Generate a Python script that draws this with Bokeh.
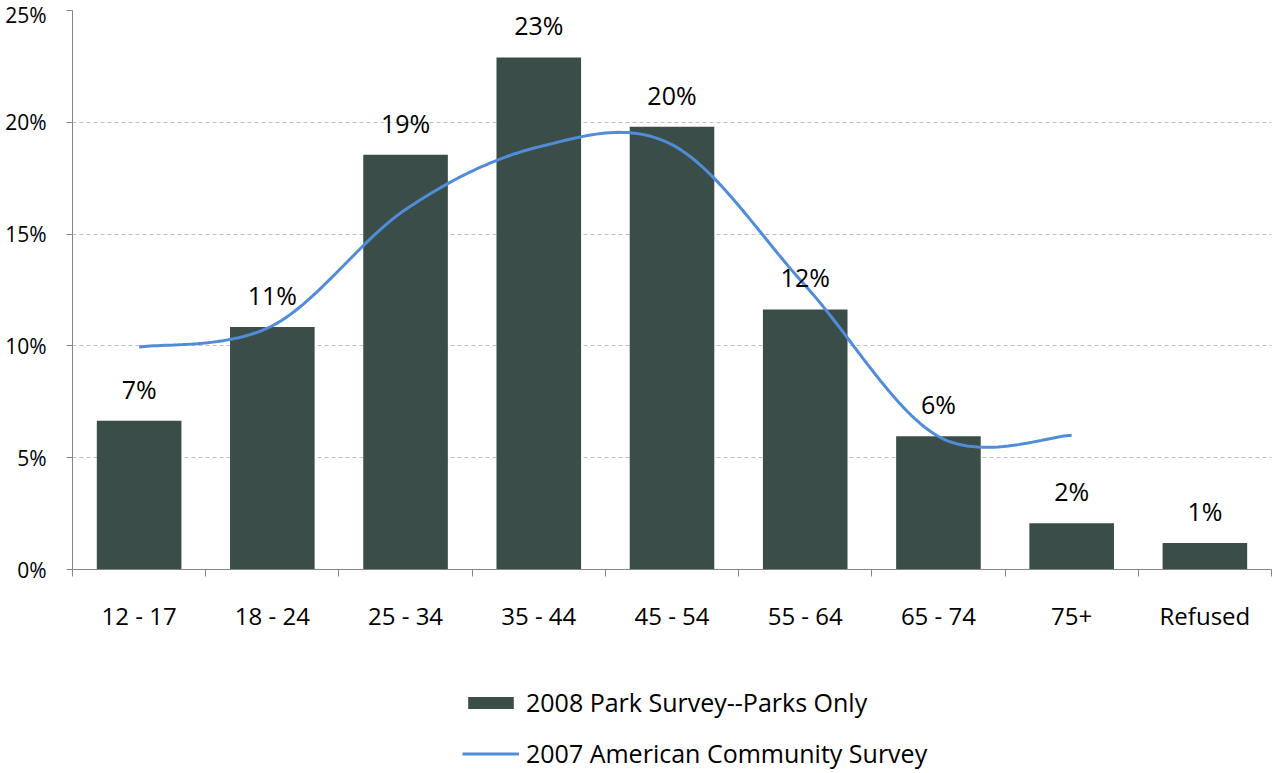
import math
from bokeh.plotting import figure
from bokeh.layouts import column
from bokeh.models import Range1d, FixedTicker, PrintfTickFormatter, Legend, LegendItem
from bokeh.core.properties import value
from bokeh.embed import file_html
from bokeh.resources import INLINE

categories = ["12 - 17", "18 - 24", "25 - 34", "35 - 44", "45 - 54",
              "55 - 64", "65 - 74", "75+", "Refused"]
park_survey_2008 = [6.65, 10.85, 18.55, 22.9, 19.8, 11.63, 5.96, 2.07, 1.19]
acs_2007 = [9.95, 10.9, 16.1, 18.9, 19.0, 12.7, 5.95, 6.0]  # no value for "Refused"
y_ticks = [0, 5, 10, 15, 20, 25]
series_names = ["2008 Park Survey--Parks Only", "2007 American Community Survey"]

FONT = "Open Sans"
BAR_COLOR = "#3B4D48"
LINE_COLOR = "#508CD8"
AXIS_COLOR = "#868686"
GRID_COLOR = "#C0C0C0"
W = 1272

n = len(categories)
centers = [i + 0.5 for i in range(n)]

p = figure(width=W, height=649, output_backend="svg", toolbar_location=None,
           x_range=Range1d(0, n), y_range=Range1d(0, 25),
           min_border_left=72, min_border_right=1, min_border_top=10,
           min_border_bottom=80)
p.outline_line_color = None

bar_style = dict(fill_color=BAR_COLOR, line_color=None)
line_style = dict(line_color=LINE_COLOR, line_width=3)

p.vbar(x=centers, top=park_survey_2008, width=0.635, **bar_style)


def smooth(xs, ys, steps=30):
    """Excel-like smoothed line (Catmull-Rom cubic Bezier)."""
    pts = list(zip(xs, ys))
    m = len(pts)
    out_x, out_y = [], []
    for i in range(m - 1):
        p0 = pts[i - 1] if i > 0 else pts[i]
        p1 = pts[i]
        p2 = pts[i + 1]
        p3 = pts[i + 2] if i + 2 < m else pts[i + 1]
        c1 = (p1[0] + (p2[0] - p0[0]) / 6, p1[1] + (p2[1] - p0[1]) / 6)
        c2 = (p2[0] - (p3[0] - p1[0]) / 6, p2[1] - (p3[1] - p1[1]) / 6)
        for k in range(steps + (1 if i == m - 2 else 0)):
            t = k / steps
            a = (1 - t) ** 3
            b = 3 * (1 - t) ** 2 * t
            c = 3 * (1 - t) * t ** 2
            d = t ** 3
            out_x.append(a * p1[0] + b * c1[0] + c * c2[0] + d * p2[0])
            out_y.append(a * p1[1] + b * c1[1] + c * c2[1] + d * p2[1])
    return out_x, out_y


lx, ly = smooth(centers[:len(acs_2007)], acs_2007)
p.line(lx, ly, **line_style)

labels = [f"{math.floor(v + 0.5)}%" for v in park_survey_2008]
p.text(x=centers, y=park_survey_2008, text=labels, text_align="center",
       text_baseline="alphabetic", y_offset=-32, text_font=value(FONT),
       text_font_size="25px", text_color="#000000")

# x axis: labels at category centres, tick marks at category boundaries
xaxis = p.xaxis[0]
xaxis.ticker = FixedTicker(ticks=centers, minor_ticks=list(range(n + 1)))
xaxis.major_label_overrides = {c: lab for c, lab in zip(centers, categories)}
xaxis.major_tick_out = 0
xaxis.major_tick_in = 0
xaxis.minor_tick_out = 7
xaxis.minor_tick_in = 0
xaxis.minor_tick_line_color = AXIS_COLOR
xaxis.axis_line_color = AXIS_COLOR
xaxis.major_label_standoff = 22
xaxis.major_label_text_font = FONT
xaxis.major_label_text_font_size = "24px"
xaxis.major_label_text_color = "#000000"

yaxis = p.yaxis[0]
yaxis.ticker = FixedTicker(ticks=y_ticks)
yaxis.formatter = PrintfTickFormatter(format="%d%%")
yaxis.major_tick_out = 6
yaxis.major_tick_in = 0
yaxis.minor_tick_out = 0
yaxis.minor_tick_in = 0
yaxis.axis_line_color = AXIS_COLOR
yaxis.major_tick_line_color = AXIS_COLOR
yaxis.major_label_standoff = 20
yaxis.major_label_text_font = FONT
yaxis.major_label_text_font_size = "21px"
yaxis.major_label_text_color = "#000000"

p.xgrid.visible = False
p.ygrid.ticker = FixedTicker(ticks=y_ticks)
p.ygrid.grid_line_color = GRID_COLOR
p.ygrid.grid_line_dash = "4 3"

# legend strip below the chart: key renderers use the same series and styles,
# but lie far outside this strip's visible window, so only the legend keys show
lg = figure(width=W, height=121, output_backend="svg", toolbar_location=None,
            x_range=Range1d(1000, 1001), y_range=Range1d(1000, 1001),
            x_axis_location=None, y_axis_location=None,
            min_border_left=0, min_border_right=0, min_border_top=0,
            min_border_bottom=0)
lg.outline_line_color = None
lg.grid.visible = False
key_bar = lg.vbar(x=centers, top=park_survey_2008, width=0.635, **bar_style)
key_line = lg.line(lx, ly, **line_style)

legend = Legend(items=[LegendItem(label=series_names[0], renderers=[key_bar]),
                       LegendItem(label=series_names[1], renderers=[key_line])],
                location=(390, 0), orientation="vertical",
                border_line_color=None, background_fill_alpha=0,
                padding=0, margin=0, spacing=17,
                glyph_width=57, glyph_height=15, label_height=15,
                label_standoff=7, label_text_font=FONT,
                label_text_font_size="25px", label_text_color="#000000")
lg.add_layout(legend)

open("out.html", "w").write(file_html(column(p, lg), INLINE))
